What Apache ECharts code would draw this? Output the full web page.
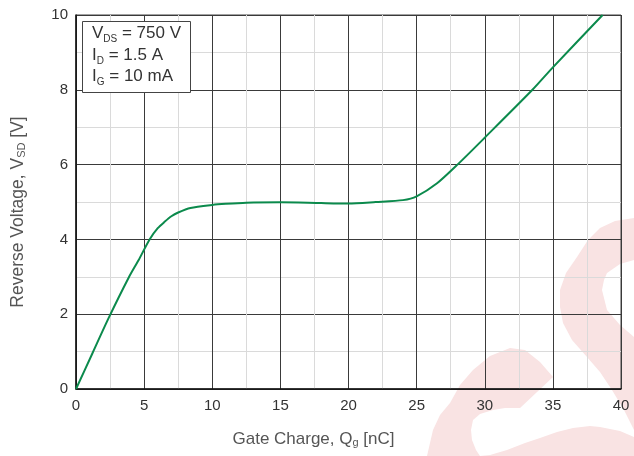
<!DOCTYPE html>
<html>
<head>
<meta charset="utf-8">
<title>Reverse Voltage vs Gate Charge</title>
<script src="https://cdn.jsdelivr.net/npm/echarts@6.0.0/dist/echarts.min.js"></script>
<style>
  html, body { margin: 0; padding: 0; background: #fff; }
  #chart { width: 634px; height: 456px; }
</style>
</head>
<body>
<div id="chart"></div>
<script>
// values
var gateCharge = [0, 1.2, 2.4, 3.9, 4.6, 5.4, 6.0, 6.5, 7.0, 7.5, 8.4, 10, 11, 12.5, 15, 18, 20, 22, 24, 25, 26.5, 28, 30, 33.5, 35, 38.65];
var reverseVoltage = [0, 0.95, 1.9, 3.0, 3.45, 4, 4.3, 4.47, 4.62, 4.72, 4.84, 4.92, 4.95, 4.98, 4.99, 4.97, 4.96, 5.0, 5.05, 5.15, 5.5, 6.0, 6.72, 8.0, 8.6, 10];
var xTicks = [0, 5, 10, 15, 20, 25, 30, 35, 40];
var yTicks = [0, 2, 4, 6, 8, 10];

var font = "'Liberation Sans', Arial, sans-serif";
var lineData = gateCharge.map(function (q, i) { return [q, reverseVoltage[i]]; });

var chart = echarts.init(document.getElementById("chart"));
chart.setOption({
  animation: false,
  backgroundColor: "#fff",
  grid: {
    left: 76,
    right: 13,
    top: 15,
    bottom: 67,
    show: true,
    borderColor: "#444",
    borderWidth: 1,
  },
  xAxis: {
    type: "value",
    min: xTicks[0],
    max: xTicks[xTicks.length - 1],
    interval: 5,
    name: "Gate Charge, Q{s|g} [nC]",
    nameLocation: "middle",
    nameGap: 42,
    nameTextStyle: {
      fontFamily: font,
      fontSize: 17,
      color: "#555",
      padding: [0, 70, 0, 0],
      rich: {
        s: { fontFamily: font, fontSize: 11, color: "#555", verticalAlign: "bottom", lineHeight: 9 },
      },
    },
    axisLine: { onZero: false, lineStyle: { color: "#111", width: 1.5 } },
    axisTick: { show: false },
    axisLabel: { fontFamily: font, fontSize: 15, color: "#333", margin: 9 },
    splitLine: { lineStyle: { color: "#3a3a3a", width: 1 } },
    minorTick: { show: false, splitNumber: 2 },
    minorSplitLine: { show: true, lineStyle: { color: "#dadada", width: 1 } },
  },
  yAxis: {
    type: "value",
    min: yTicks[0],
    max: yTicks[yTicks.length - 1],
    interval: 2,
    name: "Reverse Voltage, V{s|SD} [V]",
    nameLocation: "middle",
    nameGap: 49,
    nameTextStyle: {
      fontFamily: font,
      fontSize: 17.5,
      color: "#555",
      padding: [0, 20, 0, 0],
      rich: {
        s: { fontFamily: font, fontSize: 11, color: "#555", verticalAlign: "bottom", lineHeight: 10 },
      },
    },
    axisLine: { show: true, onZero: false, lineStyle: { color: "#111", width: 1.5 } },
    axisTick: { show: false },
    axisLabel: { fontFamily: font, fontSize: 15, color: "#333", margin: 8 },
    splitLine: { lineStyle: { color: "#3a3a3a", width: 1 } },
    minorTick: { show: false, splitNumber: 2 },
    minorSplitLine: { show: true, lineStyle: { color: "#dadada", width: 1 } },
  },
  graphic: [
    // faint logo watermark behind the grid
    {
      type: "polygon",
      z: -10,
      silent: true,
      shape: {
        points: [[634, 218], [615, 221], [600, 228], [588, 240], [577, 257], [566, 273], [560, 290], [560, 307],
          [563, 323], [572, 340], [587, 357], [600, 372], [612, 390], [624, 410], [634, 430], [634, 337],
          [620, 325], [607, 310], [602, 290], [604, 280], [607, 273], [620, 264], [634, 260]],
      },
      style: { fill: "#f9e3e3" },
    },
    {
      type: "polygon",
      z: -10,
      silent: true,
      shape: {
        points: [[427, 456], [433, 430], [440, 415], [450, 403], [460, 385], [473, 370], [490, 356], [510, 348],
          [525, 350], [540, 362], [553, 377], [520, 408], [505, 408], [493, 410], [480, 414], [473, 420],
          [471, 430], [472, 440], [476, 450], [480, 456], [490, 455], [507, 450], [525, 443], [540, 438],
          [557, 432], [573, 428], [590, 426], [600, 427], [620, 431], [634, 437], [634, 456]],
      },
      style: { fill: "#f9e3e3" },
    },
    // test conditions box
    {
      type: "rect",
      z: 100,
      shape: { x: 82.5, y: 21.5, width: 108, height: 71 },
      style: { fill: "#fff", stroke: "#444", lineWidth: 1 },
    },
    {
      type: "text",
      z: 101,
      left: 92,
      top: 23,
      style: {
        text: "V{s|DS} = 750 V\nI{s|D} = 1.5 A\nI{s|G} = 10 mA",
        fontFamily: font,
        fontSize: 17,
        lineHeight: 21.5,
        fill: "#333",
        rich: {
          s: { fontFamily: font, fontSize: 10, fill: "#333", verticalAlign: "bottom", lineHeight: 12 },
        },
      },
    },
  ],
  series: [
    {
      type: "line",
      data: lineData,
      showSymbol: false,
      smooth: 0.25,
      lineStyle: { color: "#0b8a4c", width: 2 },
      z: 5,
    },
  ],
});
</script>
</body>
</html>
